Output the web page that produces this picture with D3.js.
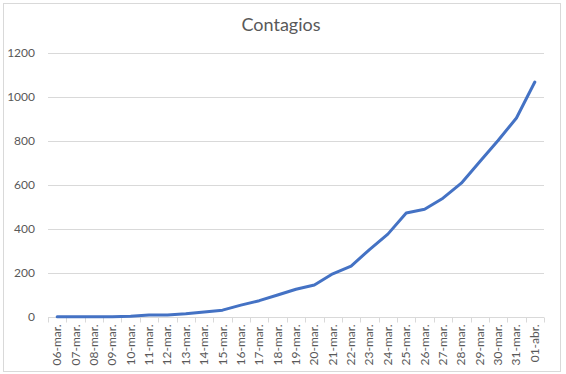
<!DOCTYPE html>
<html>
<head>
<meta charset="utf-8">
<script src="https://cdn.jsdelivr.net/npm/d3@7"></script>
<style>
  body { margin: 0; background: #fff; }
  svg text { font-family: Lato, "Open Sans", sans-serif; fill: #595959; }
</style>
</head>
<body>
<div id="chart"></div>
<script>
// datos
const fechas = ['06-mar.', '07-mar.', '08-mar.', '09-mar.', '10-mar.', '11-mar.', '12-mar.',
  '13-mar.', '14-mar.', '15-mar.', '16-mar.', '17-mar.', '18-mar.', '19-mar.', '20-mar.',
  '21-mar.', '22-mar.', '23-mar.', '24-mar.', '25-mar.', '26-mar.', '27-mar.', '28-mar.',
  '29-mar.', '30-mar.', '31-mar.', '01-abr.'];
const contagios = [1, 1, 1, 1, 3, 9, 9, 15, 23, 31, 54, 74, 100, 126, 145,
  196, 231, 306, 376, 472, 489, 539, 607, 704, 801, 903, 1066];
const ticksY = [0, 200, 400, 600, 800, 1000, 1200];

const W = 566, H = 374;
const m = {left: 48, right: 22, top: 52, bottom: 57};

const svg = d3.select('#chart').append('svg')
  .attr('width', W)
  .attr('height', H);

// borde del gráfico
svg.append('rect')
  .attr('x', 3.5).attr('y', 3.5)
  .attr('width', 557).attr('height', 368)
  .attr('fill', 'none')
  .attr('stroke', '#d9d9d9');

svg.append('text')
  .attr('x', 281).attr('y', 31)
  .attr('text-anchor', 'middle')
  .style('font-size', '18px')
  .text('Contagios');

const x = d3.scaleBand()
  .domain(fechas)
  .range([m.left, W - m.right]);

const y = d3.scaleLinear()
  .domain([0, 1200])
  .range([H - m.bottom, m.top + 0.5]);

// líneas de grilla
svg.append('g')
  .selectAll('line')
  .data(ticksY.slice(1))
  .enter()
  .append('line')
  .attr('x1', m.left).attr('x2', W - m.right)
  .attr('y1', d => Math.round(y(d)) + 0.5)
  .attr('y2', d => Math.round(y(d)) + 0.5)
  .attr('stroke', '#d9d9d9');

svg.append('g')
  .selectAll('text')
  .data(ticksY)
  .enter()
  .append('text')
  .attr('x', 35)
  .attr('y', d => y(d) + 4)
  .attr('text-anchor', 'end')
  .style('font-size', '12px')
  .text(d => d);

// eje x
const ax = svg.append('g')
  .attr('transform', `translate(0,${Math.round(y(0)) + 0.5})`);

ax.append('line')
  .attr('x1', m.left).attr('x2', W - m.right)
  .attr('stroke', '#d9d9d9');

ax.selectAll('.tick')
  .data(fechas.concat(['fin']))
  .enter()
  .append('line')
  .attr('x1', (d, i) => Math.round(m.left + i * x.bandwidth()) + 0.5)
  .attr('x2', (d, i) => Math.round(m.left + i * x.bandwidth()) + 0.5)
  .attr('y1', 0).attr('y2', 5)
  .attr('stroke', '#d9d9d9');

ax.selectAll('.lbl')
  .data(fechas)
  .enter()
  .append('text')
  .attr('transform', d => `translate(${x(d) + x.bandwidth() / 2 + 4},7) rotate(-90)`)
  .attr('text-anchor', 'end')
  .style('font-size', '12px')
  .text(d => d);

const linea = d3.line()
  .x((d, i) => x(fechas[i]) + x.bandwidth() / 2)
  .y(d => y(d));

svg.append('path')
  .datum(contagios)
  .attr('d', linea)
  .attr('fill', 'none')
  .attr('stroke', '#4472c4')
  .attr('stroke-width', 3)
  .attr('stroke-linejoin', 'round')
  .attr('stroke-linecap', 'round');
</script>
</body>
</html>
